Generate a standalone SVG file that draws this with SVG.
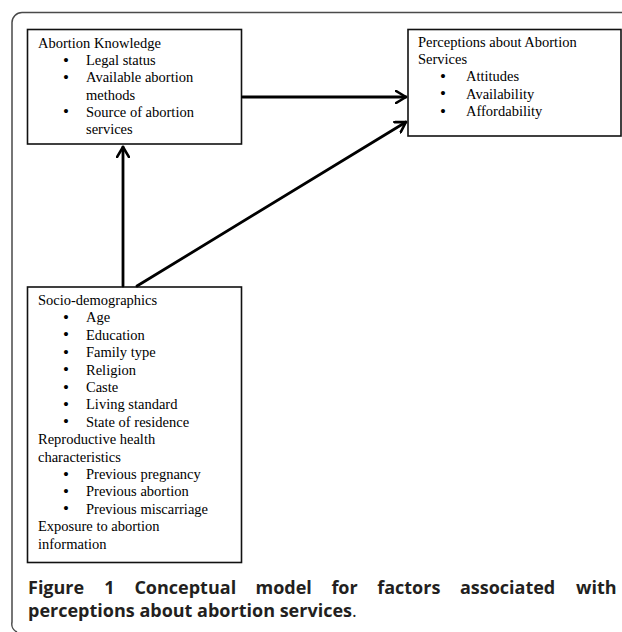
<svg xmlns="http://www.w3.org/2000/svg" width="622" height="632" viewBox="0 0 622 632">
<defs>
<style>
.frame{fill:none;stroke:#4a4a4a;stroke-width:1.5}
.box{fill:#fff;stroke:#111;stroke-width:1.6}
.t{font-family:"Liberation Serif","Times New Roman",serif;font-size:14.5px;fill:#000}
.b{font-family:"Liberation Serif","Times New Roman",serif;font-size:17px;fill:#000}
.cap{font-family:"Open Sans","Noto Sans",sans-serif;font-weight:bold;font-size:18px;fill:#231f20}
.conn{fill:none;stroke:#000;stroke-width:2.8;stroke-linecap:round}
</style>
<marker id="ah" viewBox="0 0 12 14" refX="11" refY="7" markerWidth="12" markerHeight="14" markerUnits="userSpaceOnUse" orient="auto">
<path d="M1,1 L11,7 L1,13" fill="none" stroke="#000" stroke-width="2.6" stroke-linecap="round" stroke-linejoin="round"/>
</marker>
</defs>
<rect width="622" height="632" fill="#fff"/>
<path class="frame" d="M623,12.5 H22 A10,10 0 0 0 12,22.5 V622 A9,9 0 0 0 17,632"/>

<g id="knowledge">
<rect class="box" x="27.5" y="29.5" width="214" height="114.5"/>
<text class="t" x="38" y="47.5">Abortion Knowledge</text>
<text class="b" x="63" y="65.5">•</text><text class="t" x="86" y="65">Legal status</text>
<text class="b" x="63" y="82.8">•</text><text class="t" x="86" y="82.3">Available abortion</text>
<text class="t" x="86" y="99.5">methods</text>
<text class="b" x="63" y="117.2">•</text><text class="t" x="86" y="116.7">Source of abortion</text>
<text class="t" x="86" y="134">services</text>
</g>

<g id="perceptions">
<rect class="box" x="408" y="29.5" width="213" height="106.5"/>
<text class="t" x="418" y="46.7">Perceptions about Abortion</text>
<text class="t" x="418" y="64">Services</text>
<text class="b" x="440" y="81.8">•</text><text class="t" x="466" y="81.3">Attitudes</text>
<text class="b" x="440" y="99.1">•</text><text class="t" x="466" y="98.6">Availability</text>
<text class="b" x="440" y="116.5">•</text><text class="t" x="466" y="116">Affordability</text>
</g>

<g id="sociodemographics">
<rect class="box" x="27.5" y="287" width="214" height="275.5"/>
<text class="t" x="38" y="305">Socio-demographics</text>
<text class="b" x="63" y="322.9">•</text><text class="t" x="86" y="322.4">Age</text>
<text class="b" x="63" y="340.3">•</text><text class="t" x="86" y="339.8">Education</text>
<text class="b" x="63" y="357.7">•</text><text class="t" x="86" y="357.2">Family type</text>
<text class="b" x="63" y="375.1">•</text><text class="t" x="86" y="374.6">Religion</text>
<text class="b" x="63" y="392.5">•</text><text class="t" x="86" y="392">Caste</text>
<text class="b" x="63" y="409.9">•</text><text class="t" x="86" y="409.4">Living standard</text>
<text class="b" x="63" y="427.3">•</text><text class="t" x="86" y="426.8">State of residence</text>
<text class="t" x="38" y="444.2">Reproductive health</text>
<text class="t" x="38" y="461.6">characteristics</text>
<text class="b" x="63" y="479.5">•</text><text class="t" x="86" y="479">Previous pregnancy</text>
<text class="b" x="63" y="496.9">•</text><text class="t" x="86" y="496.4">Previous abortion</text>
<text class="b" x="63" y="514.3">•</text><text class="t" x="86" y="513.8">Previous miscarriage</text>
<text class="t" x="38" y="531.2">Exposure to abortion</text>
<text class="t" x="38" y="548.6">information</text>
</g>

<g id="connectors">
<line class="conn" x1="242.5" y1="97" x2="406" y2="97" marker-end="url(#ah)"/>
<line class="conn" x1="123" y1="286" x2="123" y2="147" marker-end="url(#ah)"/>
<line class="conn" x1="137" y1="286" x2="406" y2="122" marker-end="url(#ah)"/>
</g>

<g id="caption">
<text class="cap" y="594"><tspan x="28">Figure</tspan><tspan x="104.3">1</tspan><tspan x="134.4">Conceptual</tspan><tspan x="255.5">model</tspan><tspan x="331.4">for</tspan><tspan x="377.2">factors</tspan><tspan x="459.9">associated</tspan><tspan x="576">with</tspan></text>
<text class="cap" x="28" y="617">perceptions about abortion services<tspan font-weight="normal">.</tspan></text>
</g>
</svg>
